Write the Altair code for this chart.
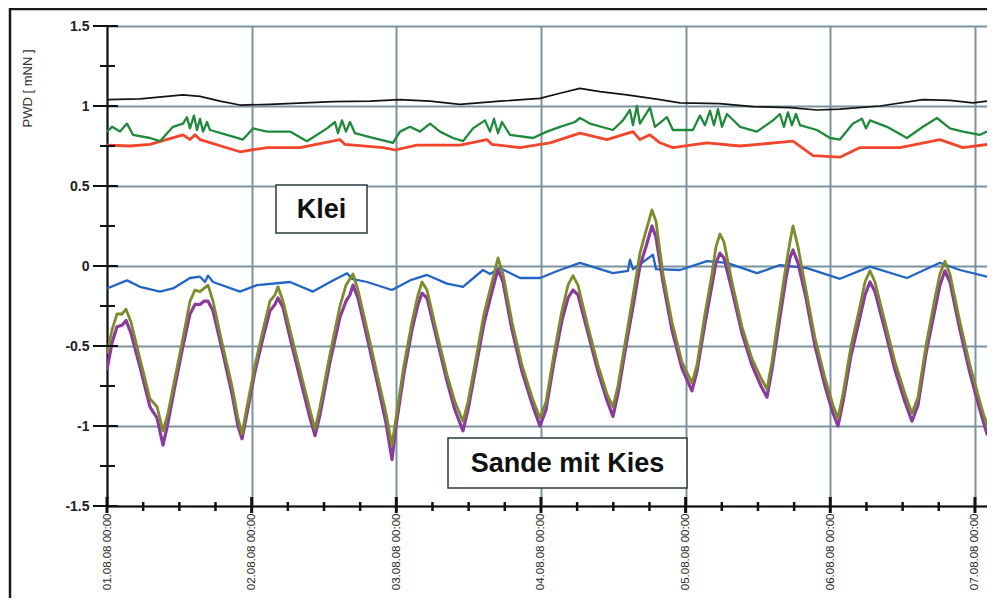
import altair as alt
import pandas as pd

START = pd.Timestamp("2008-08-01 00:00")

# ---- tidal series (Sande mit Kies): hours since 01.08.08 00:00 ----
tide_hours = [0, 0.83, 1.66, 2.49, 3.15, 3.98, 5.47, 7.13, 8.30, 9.29, 10.12, 11.28, 12.61, 13.77,
              14.60, 15.43, 16.09, 16.76, 17.59, 19.08, 20.74, 21.73, 22.40, 23.23, 24.55, 25.88,
              27.04, 27.87, 28.37, 29.20, 30.69, 32.35, 33.68, 34.51, 35.34, 37.00, 38.65, 39.65,
              40.31, 40.81, 41.64, 43.30, 44.96, 46.29, 47.28, 47.95, 49.27, 50.60, 51.60, 52.26,
              53.09, 54.75, 56.41, 57.73, 59.06, 59.89, 61.22, 62.54, 63.87, 64.87, 65.70, 67.19,
              68.85, 70.51, 71.83, 72.83, 74.16, 75.48, 76.48, 77.31, 78.14, 79.80, 81.46, 82.95,
              83.94, 84.77, 86.10, 87.43, 88.42, 89.42, 90.42, 91.08, 92.24, 93.73, 95.39, 97.05,
              97.88, 99.21, 100.37, 101.03, 101.70, 102.36, 103.69, 105.35, 107.01, 108.50, 109.49,
              110.32, 111.65, 112.64, 113.31, 113.81, 114.64, 115.97, 117.46, 119.12, 120.45,
              121.28, 122.11, 123.44, 124.93, 125.76, 126.58, 127.41, 129.07, 130.73, 132.39,
              133.55, 134.55, 135.87, 137.37, 138.19, 139.02, 139.85, 141.51, 143.17, 144.83,
              146.00, 146.82, 148.15]
olive_vals = [-0.55, -0.40, -0.30, -0.30, -0.27, -0.35, -0.58, -0.83, -0.88, -1.03, -0.92, -0.70, -0.45, -0.22,
              -0.15, -0.16, -0.14, -0.12, -0.22, -0.48, -0.75, -0.95, -1.05, -0.88, -0.62, -0.40,
              -0.22, -0.18, -0.13, -0.22, -0.45, -0.70, -0.90, -1.02, -0.88, -0.55, -0.25, -0.12,
              -0.08, -0.05, -0.15, -0.42, -0.70, -0.92, -1.12, -0.95, -0.62, -0.35, -0.18, -0.10,
              -0.15, -0.42, -0.68, -0.85, -0.97, -0.85, -0.58, -0.30, -0.10, 0.05, -0.05, -0.35,
              -0.62, -0.82, -0.95, -0.85, -0.55, -0.28, -0.12, -0.06, -0.12, -0.38, -0.62, -0.80,
              -0.88, -0.75, -0.45, -0.15, 0.08, 0.22, 0.35, 0.28, -0.05, -0.35, -0.60, -0.73,
              -0.62, -0.30, -0.05, 0.12, 0.20, 0.15, -0.10, -0.38, -0.58, -0.70, -0.77,
              -0.60, -0.25, 0.00, 0.15, 0.25, 0.12, -0.15, -0.45, -0.70, -0.87,
              -0.95, -0.80, -0.50, -0.25, -0.10, -0.03, -0.10, -0.35, -0.60, -0.80,
              -0.92, -0.82, -0.50, -0.20, -0.05, 0.03, -0.05, -0.35, -0.62, -0.85,
              -1.00, -0.80, -0.35]
purple_vals = [-0.65, -0.48, -0.38, -0.37, -0.34, -0.42, -0.63, -0.88, -0.95, -1.12, -0.98, -0.75, -0.50, -0.30,
               -0.24, -0.24, -0.22, -0.22, -0.28, -0.52, -0.80, -1.00, -1.08, -0.92, -0.66, -0.45,
               -0.28, -0.24, -0.20, -0.26, -0.50, -0.75, -0.95, -1.06, -0.93, -0.60, -0.32, -0.22,
               -0.18, -0.12, -0.20, -0.47, -0.75, -0.98, -1.21, -1.00, -0.67, -0.40, -0.24, -0.17,
               -0.20, -0.46, -0.72, -0.90, -1.03, -0.90, -0.63, -0.36, -0.16, -0.02, -0.10, -0.40,
               -0.66, -0.86, -1.00, -0.90, -0.60, -0.34, -0.20, -0.15, -0.18, -0.42, -0.66, -0.84,
               -0.94, -0.80, -0.50, -0.22, 0.00, 0.12, 0.25, 0.18, -0.10, -0.40, -0.64, -0.78,
               -0.66, -0.36, -0.12, 0.02, 0.08, 0.05, -0.15, -0.42, -0.62, -0.75, -0.82,
               -0.65, -0.32, -0.08, 0.05, 0.10, 0.02, -0.20, -0.50, -0.75, -0.92,
               -1.00, -0.85, -0.56, -0.32, -0.18, -0.10, -0.16, -0.40, -0.65, -0.85,
               -0.97, -0.87, -0.55, -0.27, -0.12, -0.03, -0.10, -0.40, -0.67, -0.90,
               -1.05, -0.85, -0.40]

# ---- blue series ----
blue_hours = [0, 3.32, 5.47, 8.79, 10.95, 13.77, 15.43, 16.26, 16.76, 17.59, 22.06, 24.89, 30.36, 34.18,
              37.49, 39.82, 40.64, 43.13, 47.28, 50.27, 53.09, 56.41, 59.06, 62.38, 63.54, 65.20,
              68.52, 71.83, 75.15, 78.47, 83.94, 86.43, 86.76, 87.26, 90.58, 91.08, 95.06, 99.54,
              102.86, 107.84, 111.65, 116.13, 121.60, 126.58, 132.72, 138.19, 141.51, 146.00, 148.15]
blue_vals = [-0.14, -0.09, -0.13, -0.16, -0.14, -0.075, -0.067, -0.10, -0.06, -0.10, -0.16, -0.12, -0.10, -0.16,
             -0.09, -0.045, -0.08, -0.10, -0.15, -0.09, -0.056, -0.11, -0.13, -0.025, -0.05, -0.013,
             -0.075, -0.075, -0.025, 0.02, -0.045, -0.03, 0.04, -0.02, 0.07, -0.02, -0.025, 0.03,
             0.02, -0.045, 0.006, -0.013, -0.08, -0.004, -0.075, 0.02, -0.025, -0.067, -0.035]

# ---- black series ----
black_hours = [0, 5.47, 12.61, 15.43, 18.75, 22.06, 27.04, 37.49, 43.63, 48.61, 53.59, 58.56, 65.20,
               71.83, 75.15, 78.47, 81.79, 86.27, 91.74, 95.06, 101.70, 107.17, 113.31, 117.79,
               121.60, 128.24, 135.37, 139.85, 143.67, 148.15]
black_vals = [1.04, 1.045, 1.07, 1.06, 1.03, 1.006, 1.01, 1.027, 1.03, 1.04, 1.03, 1.01, 1.03,
              1.048, 1.08, 1.11, 1.09, 1.07, 1.04, 1.02, 1.015, 0.996, 0.99, 0.975,
              0.98, 1.0, 1.04, 1.035, 1.02, 1.04]

# ---- green series ----
green_hours = [0, 0.83, 2.16, 3.32, 4.31, 7.13, 8.79, 10.95, 12.61, 13.27, 13.77, 14.43, 14.93, 15.43,
               15.93, 16.59, 17.09, 19.91, 22.56, 24.22, 26.54, 30.36, 33.18, 36.50, 37.83, 38.32,
               38.99, 39.65, 40.31, 41.14, 43.13, 47.45, 48.61, 50.27, 51.93, 53.59, 55.25, 57.40,
               59.06, 60.72, 62.71, 63.54, 64.20, 64.87, 65.53, 66.86, 70.67, 72.99, 75.15, 77.64,
               78.47, 80.13, 83.94, 85.60, 86.76, 87.26, 87.92, 88.42, 90.08, 90.91, 92.90, 93.89,
               97.21, 98.38, 99.21, 100.04, 100.70, 101.37, 102.03, 102.86, 105.02, 107.84, 110.49,
               111.65, 112.31, 112.98, 113.64, 114.30, 114.97, 117.79, 119.95, 121.60, 123.76,
               125.26, 125.92, 126.58, 129.40, 132.72, 135.37, 137.70, 139.85, 142.01, 144.83, 148.15]
green_vals = [0.84, 0.87, 0.84, 0.89, 0.82, 0.80, 0.78, 0.87, 0.89, 0.93, 0.86, 0.94, 0.85, 0.92,
              0.84, 0.90, 0.85, 0.82, 0.79, 0.86, 0.84, 0.84, 0.78, 0.86, 0.90, 0.83,
              0.91, 0.84, 0.90, 0.83, 0.81, 0.77, 0.84, 0.87, 0.84, 0.89, 0.84, 0.80,
              0.78, 0.86, 0.91, 0.84, 0.92, 0.83, 0.90, 0.82, 0.80, 0.84, 0.87, 0.90,
              0.925, 0.89, 0.85, 0.91, 0.975, 0.88, 1.0, 0.89, 0.99, 0.87, 0.93, 0.85,
              0.85, 0.94, 0.88, 0.97, 0.88, 0.98, 0.87, 0.95, 0.87, 0.84, 0.91,
              0.95, 0.87, 0.96, 0.88, 0.95, 0.88, 0.85, 0.80, 0.79, 0.89,
              0.92, 0.86, 0.91, 0.87, 0.80, 0.87, 0.925, 0.86, 0.84, 0.82, 0.88]

# ---- red series ----
red_hours = [0, 3.82, 7.13, 12.61, 13.77, 14.60, 15.43, 22.06, 26.54, 32.02, 38.65, 39.48, 45.79, 47.78,
             51.43, 58.56, 63.04, 63.87, 68.52, 73.49, 78.47, 82.95, 87.26, 88.42, 90.08, 91.74,
             93.89, 99.54, 105.02, 113.81, 117.13, 121.60, 124.93, 131.56, 138.19, 142.01, 148.15]
red_vals = [0.756, 0.75, 0.76, 0.82, 0.79, 0.82, 0.79, 0.714, 0.74, 0.74, 0.79, 0.76, 0.74, 0.725,
            0.756, 0.755, 0.79, 0.76, 0.74, 0.77, 0.83, 0.79, 0.84, 0.79, 0.82, 0.77,
            0.74, 0.77, 0.75, 0.78, 0.69, 0.68, 0.74, 0.74, 0.79, 0.74, 0.77]

# ---- axes ----
y_major = [-1.5, -1, -0.5, 0, 0.5, 1, 1.5]
y_minor = [-1.25, -0.75, -0.25, 0.25, 0.75, 1.25]
day_dates = [1, 2, 3, 4, 5, 6, 7]
minor_hours = [6, 12, 18, 30, 36, 42, 54, 60, 66, 78, 84, 90, 102, 108, 114, 126, 132, 138]

FONT = "Liberation Sans"
W, H = 880, 480


def series(hours, values):
    return pd.DataFrame({"t": START + pd.to_timedelta(hours, unit="h"), "v": values})


x_scale = alt.Scale(domain=[alt.DateTime(year=2008, month=8, date=1, hours=0),
                            alt.DateTime(year=2008, month=8, date=7, hours=2)])
y_scale = alt.Scale(domain=[-1.5, 1.5], nice=False, zero=False)

x_axis = alt.Axis(values=[alt.DateTime(year=2008, month=8, date=d) for d in day_dates],
                  format="%d.%m.%y %H:%M", labelAngle=270, labelAlign="right",
                  labelBaseline="middle", labelPadding=7, labelFont=FONT, labelFontSize=11.5,
                  labelColor="#1e1e1e", labelFlush=False, labelOverlap=False, ticks=False,
                  domain=True, domainColor="#111", domainWidth=2, grid=True,
                  gridColor="#7b939e", gridWidth=2, title=None)
y_axis = alt.Axis(values=y_major, labelExpr="datum.value + ''", labelFont=FONT,
                  labelFontSize=14, labelFontWeight="bold", labelColor="#1e1e1e",
                  labelPadding=18, ticks=False, domain=True, domainColor="#111", domainWidth=2,
                  grid=True, gridColor="#7b939e", gridWidth=2,
                  title="PWD [ mNN ]", titleFont=FONT, titleFontSize=13, titleFontWeight="normal",
                  titleColor="#333", titleAngle=270, titleX=-80, titleY=62,
                  titleAlign="center", titleBaseline="middle")

X = alt.X("t:T", scale=x_scale, axis=x_axis)
Y = alt.Y("v:Q", scale=y_scale, axis=y_axis)


def line(df, color, width):
    return alt.Chart(df).mark_line(color=color, strokeWidth=width, clip=True,
                                   strokeJoin="round").encode(x=X, y=Y)


black = line(series(black_hours, black_vals), "#141414", 1.7)
red = line(series(red_hours, red_vals), "#f2452c", 2.8)
green = line(series(green_hours, green_vals), "#1f8a3b", 2.3)
blue = line(series(blue_hours, blue_vals), "#2265c6", 2.3)
purple = line(series(tide_hours, purple_vals), "#8b3a9e", 3.2)
olive = line(series(tide_hours, olive_vals), "#7d8b2a", 2.8)

# ticks crossing the axes
ymaj = alt.Chart(pd.DataFrame({"v": y_major})).mark_rule(color="#111", strokeWidth=2).encode(
    y=Y, x=alt.value(-14), x2=alt.value(11))
ymin = alt.Chart(pd.DataFrame({"v": y_minor})).mark_rule(color="#111", strokeWidth=2).encode(
    y=Y, x=alt.value(-7), x2=alt.value(8))
xmaj_df = pd.DataFrame({"t": [pd.Timestamp(2008, 8, d) for d in day_dates]})
xmaj = alt.Chart(xmaj_df).mark_rule(color="#111", strokeWidth=3).encode(
    x=X, y=alt.value(H - 9), y2=alt.value(H + 7))
xmin_df = series(minor_hours, [0] * len(minor_hours))
xmin = alt.Chart(xmin_df).mark_rule(color="#111", strokeWidth=2.5).encode(
    x=X, y=alt.value(H - 4), y2=alt.value(H + 5))

# outer frame
one = pd.DataFrame({"a": [0]})
frame_left = alt.Chart(one).mark_rule(color="#1a1a1a", strokeWidth=2.5).encode(
    x=alt.value(-97), y=alt.value(-18), y2=alt.value(H + 120))
frame_top = alt.Chart(one).mark_rule(color="#1a1a1a", strokeWidth=2.5).encode(
    x=alt.value(-97), x2=alt.value(W + 10), y=alt.value(-17))


# annotation boxes
def box(x1, x2, y1, y2, label):
    rect = alt.Chart(one).mark_rect(fill="white", stroke="#2b3a3f", strokeWidth=1.5).encode(
        x=alt.value(x1), x2=alt.value(x2), y=alt.value(y1), y2=alt.value(y2))
    txt = alt.Chart(one).mark_text(text=label, font=FONT, fontSize=27, fontWeight="bold",
                                   color="#111", align="center", baseline="middle").encode(
        x=alt.value((x1 + x2) / 2), y=alt.value((y1 + y2) / 2 + 1))
    return rect + txt


klei = box(169, 260, 159, 207, "Klei")
sande = box(341, 580, 412, 462, "Sande mit Kies")

chart = alt.layer(
    black, red, green, blue, purple, olive, ymaj, ymin, xmaj, xmin,
    frame_left, frame_top, klei, sande
).properties(
    width=W, height=H,
    autosize=alt.AutoSizeParams(type="none"),
    padding={"left": 99, "top": 18, "right": 0, "bottom": 92},
    background="white",
).configure_view(strokeWidth=0)

chart.save("out.html", embed_options={"renderer": "svg", "actions": False})
